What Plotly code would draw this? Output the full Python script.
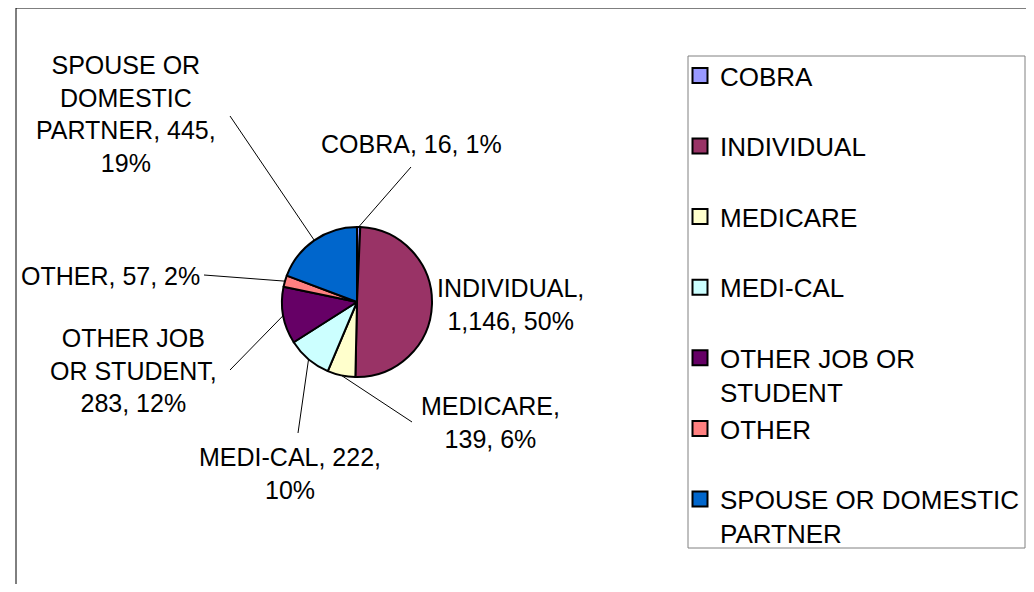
import math
import textwrap
import plotly.graph_objects as go

# data
categories = ["COBRA", "INDIVIDUAL", "MEDICARE", "MEDI-CAL",
              "OTHER JOB OR STUDENT", "OTHER", "SPOUSE OR DOMESTIC PARTNER"]
counts = [16, 1146, 139, 222, 283, 57, 445]
colors = ["#9999FF", "#993366", "#FFFFCC", "#CCFFFF", "#660066", "#FF8080", "#0066CC"]

# the page body has an 8px margin, so the figure is shrunk and shifted to avoid scrollbars
OFF = 8
W, H = 1034 - 2 * OFF, 592 - 2 * OFF
FONT = "Arial, Liberation Sans, sans-serif"

# pie geometry (window pixels)
cx, cy, r = 357, 302, 75

# label layout: text centre (px), wrap width, leader-line end (px) or None
label_pos = [(411, 144), (510, 304), (490, 422), (290, 473), (133, 370), (None, 276), (126, 114)]
label_wrap = [40, 13, 13, 14, 11, 40, 13]
leader_end = [(411, 167), None, (412, 422), (298, 433), (230, 370), (204, 275), (230, 116)]


def px(x):
    return (x - OFF) / W


def py(y):
    return 1 - (y - OFF) / H


total = sum(counts)

fig = go.Figure(go.Pie(
    labels=categories,
    values=counts,
    sort=False,
    direction="clockwise",
    rotation=0,
    textinfo="none",
    hoverinfo="skip",
    showlegend=False,
    marker=dict(colors=colors, line=dict(color="black", width=2)),
    domain=dict(x=[px(cx - r), px(cx + r)], y=[py(cy + r), py(cy - r)]),
))

# legend entries (square swatches like the original)
for c, col in zip(categories, colors):
    lines = textwrap.wrap(c, 18, break_on_hyphens=False)
    if len(lines) == 1:
        lines.append(" ")
    fig.add_trace(go.Scatter(x=[None], y=[None], mode="markers", name="<br>".join(lines),
                             marker=dict(symbol="square", size=15, color=col,
                                         line=dict(color="black", width=2)),
                             hoverinfo="skip"))

annotations = []
shapes = []
start = 0
for i, (cat, n) in enumerate(zip(categories, counts)):
    mid = (start + n / 2) / total * 2 * math.pi
    start += n
    pct = round(n / total * 100)
    txt = f"{cat}, {n:,}, {pct}%"
    lines = textwrap.wrap(txt, label_wrap[i], break_on_hyphens=False)
    lx, ly = label_pos[i]
    if lx is None:
        annotations.append(dict(x=px(leader_end[i][0] - 2), y=py(ly), xref="paper", yref="paper",
                                text="<br>".join(lines), showarrow=False, xanchor="right",
                                yanchor="middle", align="center",
                                font=dict(family=FONT, size=25, color="black")))
    else:
        annotations.append(dict(x=px(lx), y=py(ly), xref="paper", yref="paper",
                                text="<br>".join(lines), showarrow=False, xanchor="center",
                                yanchor="middle", align="center",
                                font=dict(family=FONT, size=25, color="black")))
    if leader_end[i] is not None:
        ex, ey = cx + r * math.sin(mid), cy - r * math.cos(mid)
        tx, ty = leader_end[i]
        shapes.append(dict(type="line", xref="paper", yref="paper",
                           x0=px(ex), y0=py(ey), x1=px(tx), y1=py(ty),
                           line=dict(color="black", width=1)))

# outer chart frame and legend box
shapes.append(dict(type="rect", xref="paper", yref="paper", x0=px(16), y0=py(8), x1=px(1060), y1=py(620),
                   line=dict(color="black", width=1)))
shapes.append(dict(type="rect", xref="paper", yref="paper", x0=px(688), y0=py(56), x1=px(1025), y1=py(548),
                   line=dict(color="#808080", width=1)))

fig.update_layout(
    width=W, height=H,
    autosize=False,
    margin=dict(l=0, r=0, t=0, b=0),
    paper_bgcolor="white",
    plot_bgcolor="white",
    xaxis=dict(visible=False),
    yaxis=dict(visible=False),
    showlegend=True,
    legend=dict(x=px(680), y=py(52), xanchor="left", yanchor="top",
                valign="top", traceorder="normal",
                font=dict(family=FONT, size=26, color="black"),
                bgcolor="rgba(0,0,0,0)", borderwidth=0),
    annotations=annotations,
    shapes=shapes,
)

fig.write_html("out.html")
